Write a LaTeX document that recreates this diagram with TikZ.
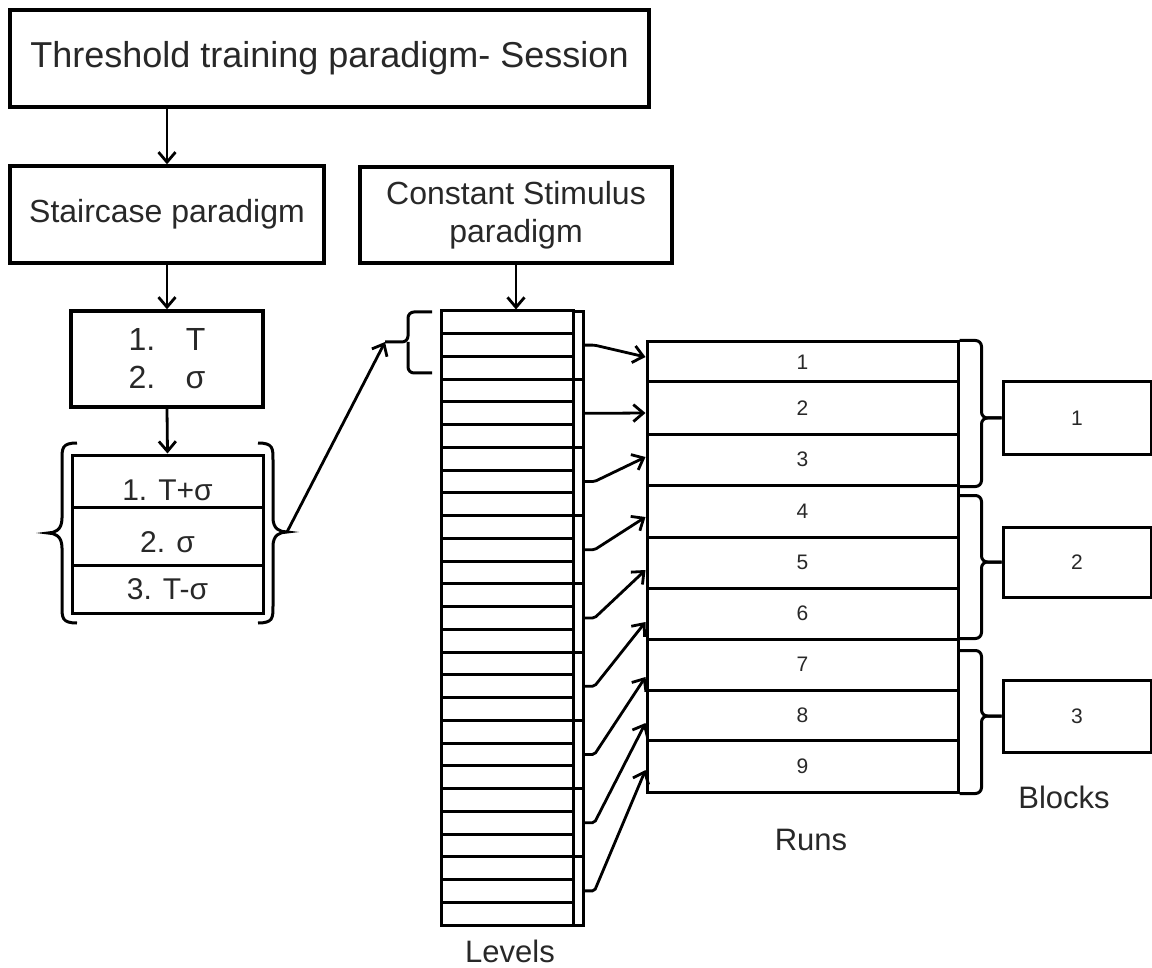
\documentclass[tikz,border=0pt]{standalone}
\usepackage{fontspec}
\setmainfont{Liberation Sans}
\usetikzlibrary{arrows.meta,calc}
\definecolor{txt}{RGB}{40,40,40}
\begin{document}
\begin{tikzpicture}[x=1pt,y=-1pt,
  box/.style={draw, line width=3.4pt, inner sep=0pt, text=txt, align=center},
  cell/.style={draw, line width=3pt, inner sep=0pt, text=txt},
  ln/.style={line width=3pt},
  arr/.style={line width=2.8pt, -{Straight Barb[length=10pt,width=17pt,line width=2.8pt]}},
  lbl/.style={text=txt, inner sep=0pt, font={\fontsize{31}{37}\selectfont}},
  fbig/.style={font={\fontsize{32}{38}\selectfont}},
  flist/.style={font={\fontsize{30}{36}\selectfont}},
  fnum/.style={font={\fontsize{21}{25}\selectfont}},
]
\useasboundingbox[fill=white] (0,0) rectangle (1152,968);

% top boxes
\node[box, minimum width=639pt, minimum height=97pt, font={\fontsize{36}{42}\selectfont}] (title) at (329.5,58.5) {Threshold training paradigm- Session};
\node[box, fbig, minimum width=314pt, minimum height=97pt] (stair) at (167,214.5) {Staircase paradigm};
\node[box, fbig, minimum width=312pt, minimum height=96pt] (const) at (516,215) {Constant Stimulus\\paradigm};
\node[box, fbig, minimum width=192pt, minimum height=96pt] (tsig) at (167,359) {1.\hspace{0.95em}T\\2.\hspace{0.95em}σ};

% list of three
\node[cell, flist, minimum width=191pt, minimum height=52pt, text height=39.5pt, text depth=0pt] (l1) at (167.5,481) {1. T+σ};
\node[cell, flist, minimum width=191pt, minimum height=58pt, text height=33pt, text depth=0pt] (l2) at (167.5,536) {2. σ};
\node[cell, flist, minimum width=191pt, minimum height=48pt] (l3) at (167.5,589) {3. T-σ};

\draw[arr] (stair.north |- title.south) -- (stair.north);
\draw[arr] (stair.south) -- (tsig.north);
\draw[arr] (tsig.south) -- (l1.north);

% braces round list
\coordinate (lbtip) at (287,532);
\draw[ln] (77,443) .. controls (62,443) and (62,448) .. (62,460) -- (62,518)
  .. controls (62,530) and (55,533) .. (48,533)
  .. controls (55,533) and (62,536) .. (62,548) -- (62,606)
  .. controls (62,618) and (62,623) .. (77,623);
\draw[ln] (258,443) .. controls (273,443) and (273,448) .. (273,460) -- (273,518)
  .. controls (273,529) and (280,532) .. (lbtip)
  .. controls (280,532) and (273,535) .. (273,546) -- (273,606)
  .. controls (273,618) and (273,623) .. (258,623);

% levels column
\node[cell, minimum width=132pt, minimum height=614pt] (levels) at (507,618) {};
\foreach \k in {1,...,26}
  \draw[ln] (441,{311+\k*614/27}) -- (573,{311+\k*614/27});
\foreach \i in {1,...,9}
  \node[cell, minimum width=10pt, minimum height=68.22pt] (g\i) at (578,{311+(\i-0.5)*614/9}) {};
\draw[arr] (const.south) -- (const.south |- levels.north);

% small brace left of levels
\coordinate (lvtip) at (385,342);
\draw[ln, rounded corners=6pt] (432,312) -- (408,312) -- (408,342) -- (lvtip);
\draw[ln, rounded corners=6pt] (432,373) -- (408,373) -- (408,342);
\draw[arr] (lbtip) -- (lvtip);

% runs
\foreach \i/\t/\b in {1/342/382,2/382/434,3/434/485,4/485/537,5/537/588,6/588/639,7/639/690,8/690/740,9/740/792}
  \node[cell, fnum, minimum width=311pt, minimum height={(\b-\t)*1pt}] (r\i) at (802.5,{(\t+\b)/2}) {\i};

% arrows levels -> runs
\foreach \i/\d in {1/-5,2/5,3/-2.5,4/6,5/7.5,6/8.5,7/12.5,8/8,9/4}
  \draw[arr, rounded corners=2pt] (g\i.east) -- ++(10,0) -- ($(r\i.west)+(0,\d)$);

% blocks
\node[cell, fnum, minimum width=148pt, minimum height=72pt] (b1) at (1077,418) {1};
\node[cell, fnum, minimum width=148pt, minimum height=70pt] (b2) at (1077,562) {2};
\node[cell, fnum, minimum width=148pt, minimum height=72pt] (b3) at (1077,716) {3};

\draw[ln, rounded corners=6pt] (r1.north east) -- ++(22,0) |- (b1.west);
\draw[ln, rounded corners=6pt] (r3.south east) -- ++(22,0) |- (b1.west);
\draw[ln, rounded corners=6pt] ($(r4.north east)+(0,12)$) -- ++(22,0) |- (b2.west);
\draw[ln, rounded corners=6pt] ($(r6.south east)+(0,-2)$) -- ++(22,0) |- (b2.west);
\draw[ln, rounded corners=6pt] ($(r7.north east)+(0,13)$) -- ++(22,0) |- (b3.west);
\draw[ln, rounded corners=6pt] (r9.south east) -- ++(22,0) |- (b3.west);

% labels
\node[lbl] (levlbl) at (510,951) {Levels};
\node[lbl] (runlbl) at (811,840) {Runs};
\node[lbl] (blklbl) at (1064,797) {Blocks};
\end{tikzpicture}
\end{document}
